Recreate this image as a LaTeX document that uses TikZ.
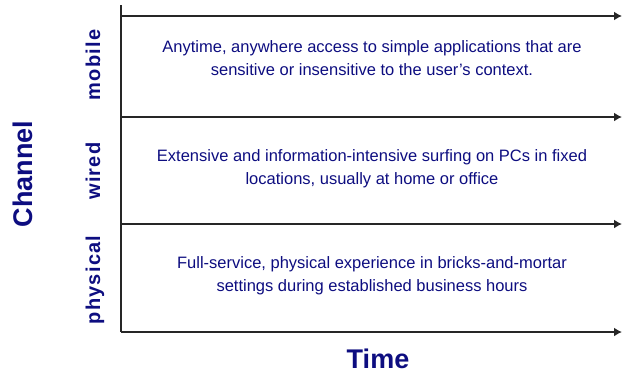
\documentclass[tikz,border=0pt]{standalone}
\usepackage{fontspec}
\setmainfont{Liberation Sans}
\newfontfamily\chanspaced[LetterSpace=6, BoldFont={Liberation Sans Bold}]{Liberation Sans}
\usetikzlibrary{arrows.meta}
\definecolor{ChanInk}{rgb}{0.05,0.05,0.5}
\definecolor{ChanAxis}{gray}{0.15}
\tikzset{
    chan/diagram/.style={
        draw=ChanAxis,
        text=ChanInk,
        line width=1.6pt,
        every node/.style={inner sep=0pt, outer sep=0pt}
    },
    chan/axis/.style={draw=ChanAxis, line width=1.6pt},
    chan/time/.style={
        draw=ChanAxis, line width=1.6pt,
        -{Latex[length=8pt, width=9pt]}
    },
    chan/title/.style={font=\fontsize{27}{30}\selectfont\bfseries, anchor=base},
    chan/row/.style={font=\fontsize{20}{22}\selectfont\chanspaced\bfseries,
        rotate=90, anchor=base},
    chan/text/.style={font=\fontsize{16.5}{23}\selectfont, align=center}
}
\begin{document}
\begin{tikzpicture}[chan/diagram, x=1pt, y=-1pt]
    \useasboundingbox (0,0) rectangle (622,373);
    \coordinate (top) at (121,5);
    \coordinate (origin) at (121,332);
    \coordinate (m0) at (121,16);
    \coordinate (m1) at (622,16);
    \coordinate (w0) at (121,117);
    \coordinate (w1) at (622,117);
    \coordinate (p0) at (121,224);
    \coordinate (p1) at (622,224);
    \coordinate (t1) at (622,332);
    \draw[chan/axis] (top) -- (origin);
    \draw[chan/time] (m0) -- (m1);
    \draw[chan/time] (w0) -- (w1);
    \draw[chan/time] (p0) -- (p1);
    \draw[chan/time] (origin) -- (t1);

    \node[chan/title, rotate=90] (channel) at (32,174) {Channel};
    \node[chan/title] (time) at (378,368) {Time};
    \node[chan/row] (mobile) at (100,65) {mobile};
    \node[chan/row] (wired) at (100,171) {wired};
    \node[chan/row] (physical) at (100,280) {physical};

    \node[chan/text] (mobiletext) at (372,58)
        {Anytime, anywhere access to simple applications that are\\
         sensitive or insensitive to the user's context.};
    \node[chan/text] (wiredtext) at (372,169)
        {Extensive and information-intensive surfing on PCs in fixed\\
         locations, usually at home or office};
    \node[chan/text] (physicaltext) at (372,276)
        {Full-service, physical experience in bricks-and-mortar\\
         settings during established business hours};
\end{tikzpicture}
\end{document}
